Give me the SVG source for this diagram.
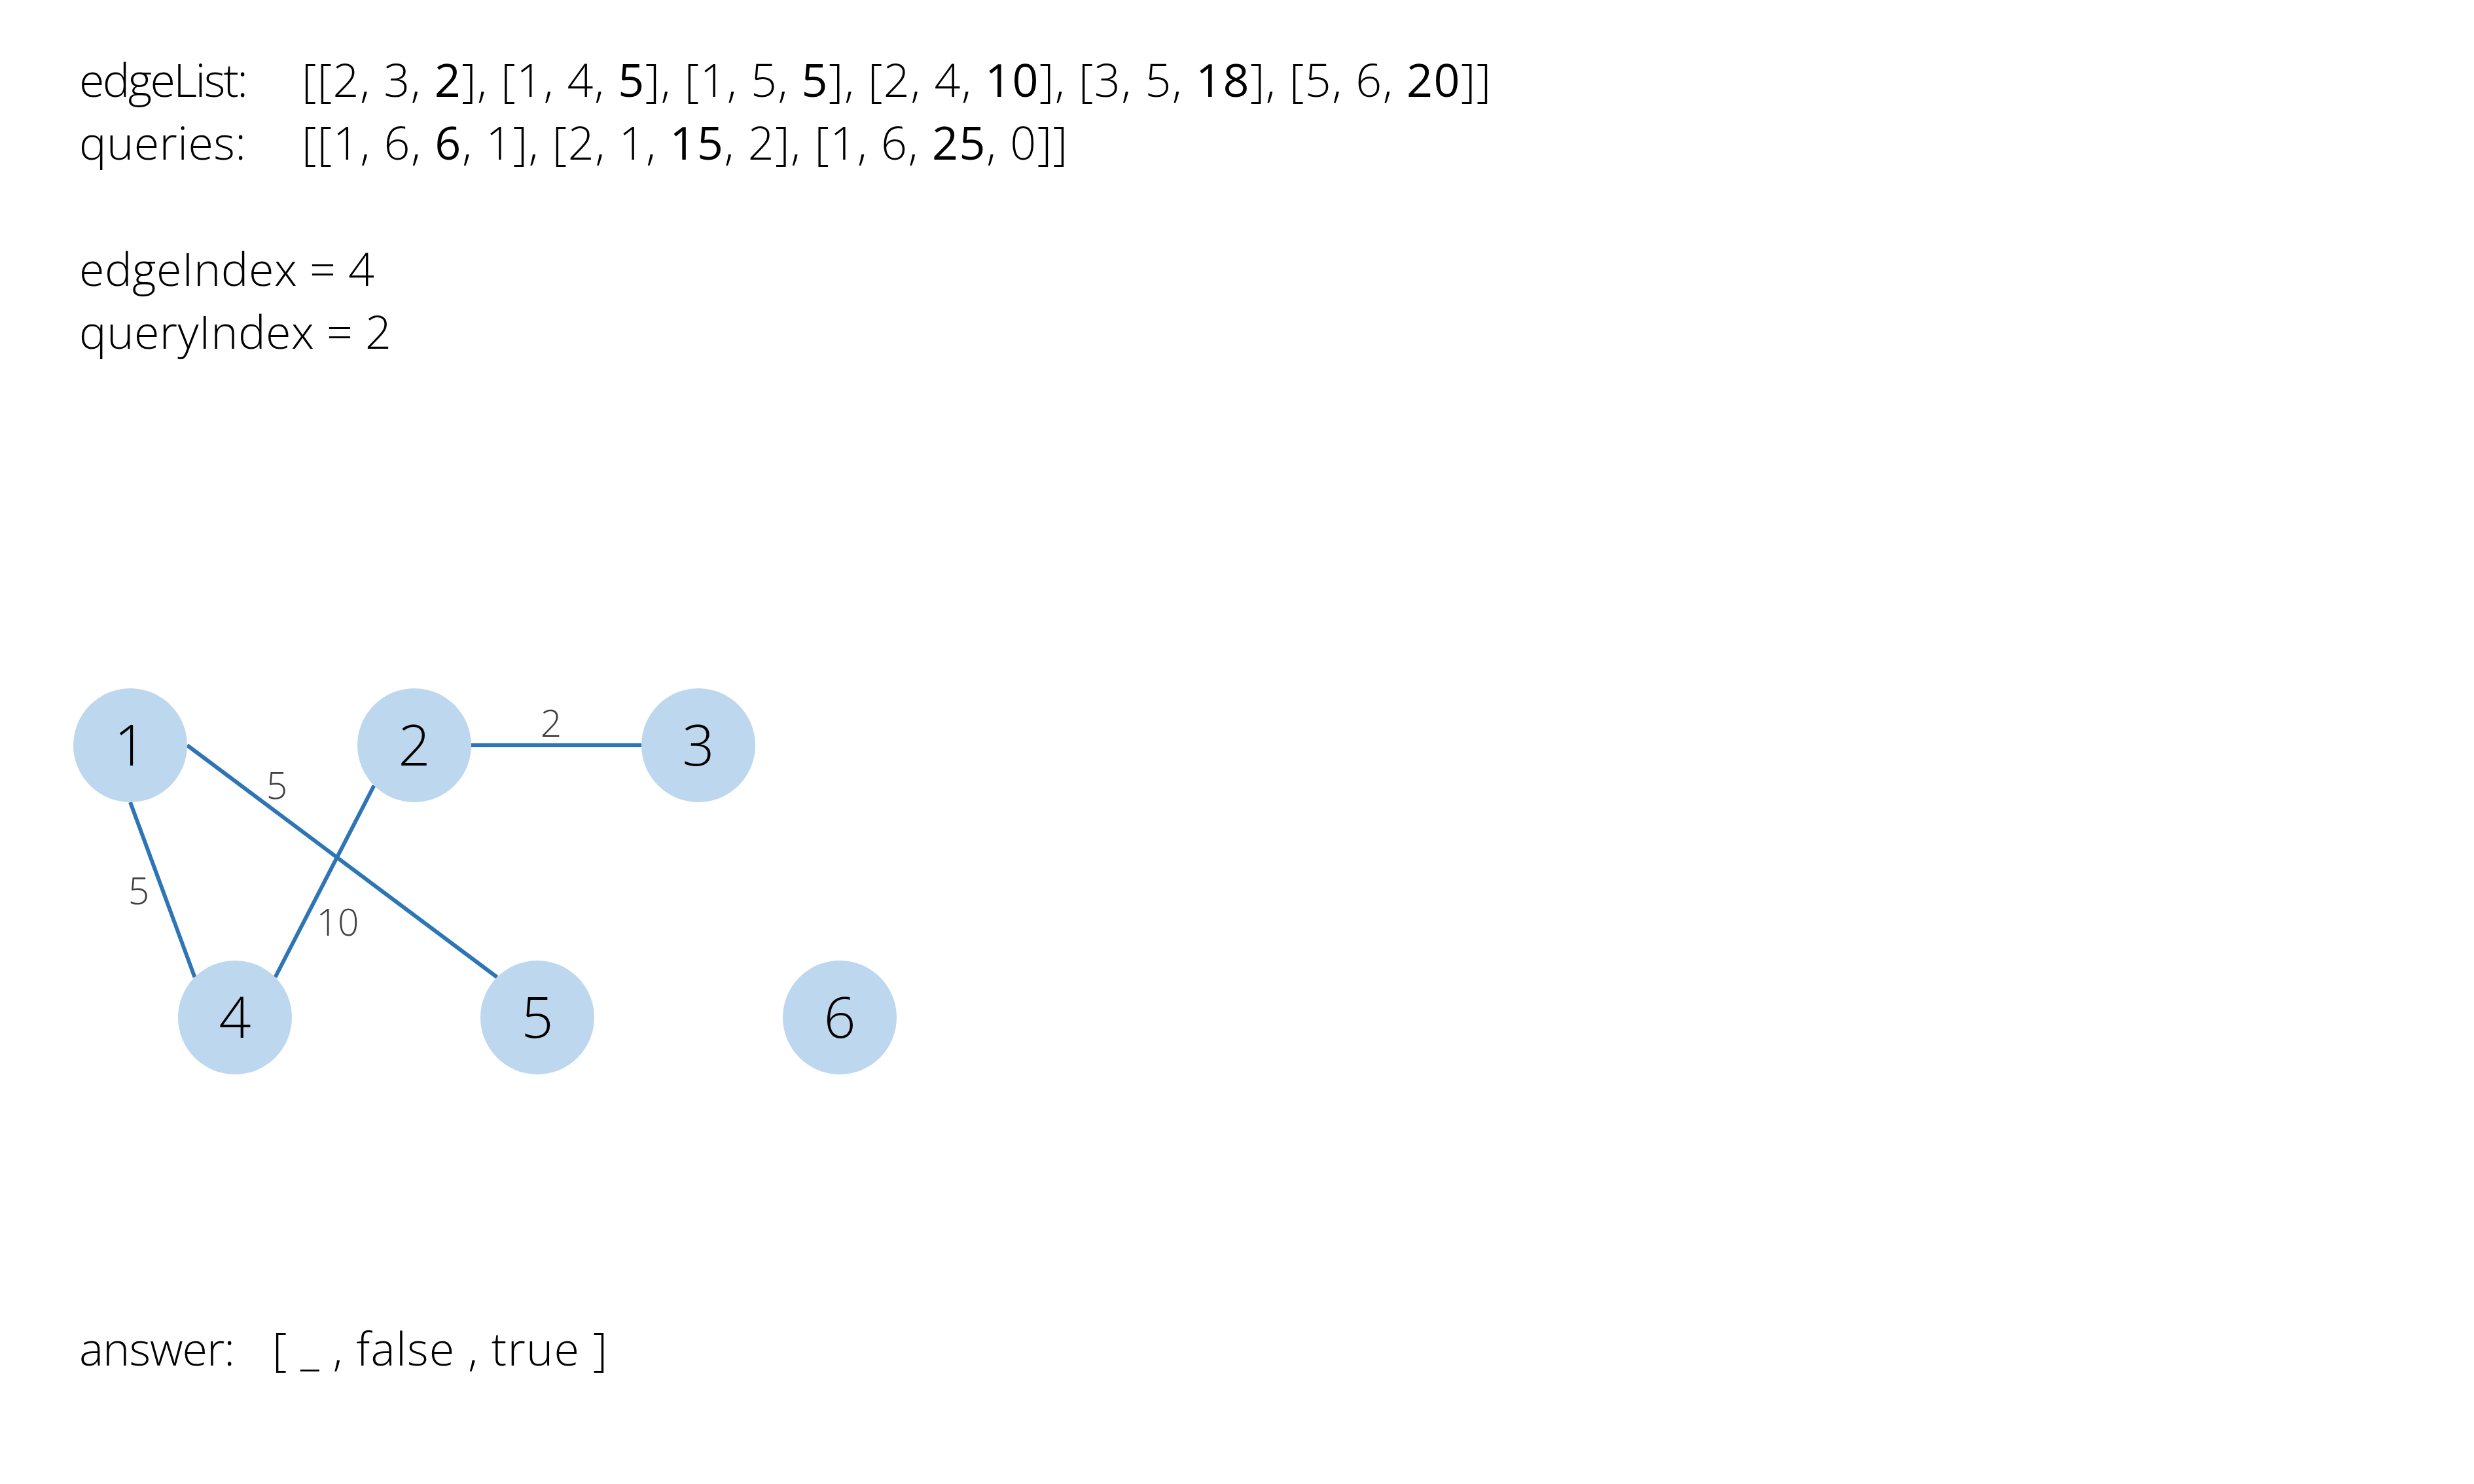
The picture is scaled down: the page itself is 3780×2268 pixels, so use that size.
<svg xmlns="http://www.w3.org/2000/svg" width="3780" height="2268" viewBox="0 0 3780 2268">
  <style>
    .t { font-family: "Open Sans", "Noto Sans", "Liberation Sans", sans-serif; font-size: 70px; font-weight: 300; fill: #000000; }
    .b { font-weight: 400; }
    .node circle { fill: #BDD7EE; stroke: none; }
    .node text { font-family: "Open Sans", "Noto Sans", "Liberation Sans", sans-serif; font-size: 86px; font-weight: 300; fill: #000000; text-anchor: middle; }
    .edge { stroke: #2E75B6; stroke-width: 6; fill: none; }
    .elabel { font-family: "Open Sans", "Noto Sans", "Liberation Sans", sans-serif; font-size: 57px; font-weight: 300; fill: #404040; text-anchor: middle; }
  </style>
  <rect x="0" y="0" width="3780" height="2268" fill="#FFFFFF"/>

  <g id="header-text">
    <text class="t" x="121" y="148" textLength="258" lengthAdjust="spacing">edgeList:</text>
    <text class="t" x="461" y="148" textLength="1817" lengthAdjust="spacing">[[2, 3, <tspan class="b">2</tspan>], [1, 4, <tspan class="b">5</tspan>], [1, 5, <tspan class="b">5</tspan>], [2, 4, <tspan class="b">10</tspan>], [3, 5, <tspan class="b">18</tspan>], [5, 6, <tspan class="b">20</tspan>]]</text>
    <text class="t" x="121" y="244" textLength="255" lengthAdjust="spacing">queries:</text>
    <text class="t" x="461" y="244" textLength="1170" lengthAdjust="spacing">[[1, 6, <tspan class="b">6</tspan>, 1], [2, 1, <tspan class="b">15</tspan>, 2], [1, 6, <tspan class="b">25</tspan>, 0]]</text>
    <text class="t" x="121" y="437" textLength="451" lengthAdjust="spacing">edgeIndex = 4</text>
    <text class="t" x="121" y="533" textLength="477" lengthAdjust="spacing">queryIndex = 2</text>
  </g>

  <g id="connectors">
    <line id="edge-2-3" class="edge" x1="720" y1="1139" x2="980" y2="1139"/>
    <line id="edge-1-4" class="edge" x1="199" y1="1226" x2="297.5" y2="1493.5"/>
    <line id="edge-1-5" class="edge" x1="286" y1="1139" x2="759.5" y2="1493.5"/>
    <line id="edge-2-4" class="edge" x1="571.5" y1="1200.5" x2="420.5" y2="1493.5"/>
    <text class="elabel" x="842" y="1126">2</text>
    <text class="elabel" x="212" y="1382">5</text>
    <text class="elabel" x="423" y="1221">5</text>
    <text class="elabel" x="516" y="1430">10</text>
  </g>

  <g id="node-1" class="node">
    <circle cx="199" cy="1139" r="87"/>
    <text x="199" y="1170">1</text>
  </g>
  <g id="node-2" class="node">
    <circle cx="633" cy="1139" r="87"/>
    <text x="633" y="1170">2</text>
  </g>
  <g id="node-3" class="node">
    <circle cx="1067" cy="1139" r="87"/>
    <text x="1067" y="1170">3</text>
  </g>
  <g id="node-4" class="node">
    <circle cx="359" cy="1555" r="87"/>
    <text x="359" y="1586">4</text>
  </g>
  <g id="node-5" class="node">
    <circle cx="821" cy="1555" r="87"/>
    <text x="821" y="1586">5</text>
  </g>
  <g id="node-6" class="node">
    <circle cx="1283" cy="1555" r="87"/>
    <text x="1283" y="1586">6</text>
  </g>

  <g id="answer-text">
    <text class="t" x="121" y="2087" textLength="238" lengthAdjust="spacing">answer:</text>
    <text class="t" x="416" y="2087" textLength="512" lengthAdjust="spacing">[ _ , false , true ]</text>
  </g>
</svg>
